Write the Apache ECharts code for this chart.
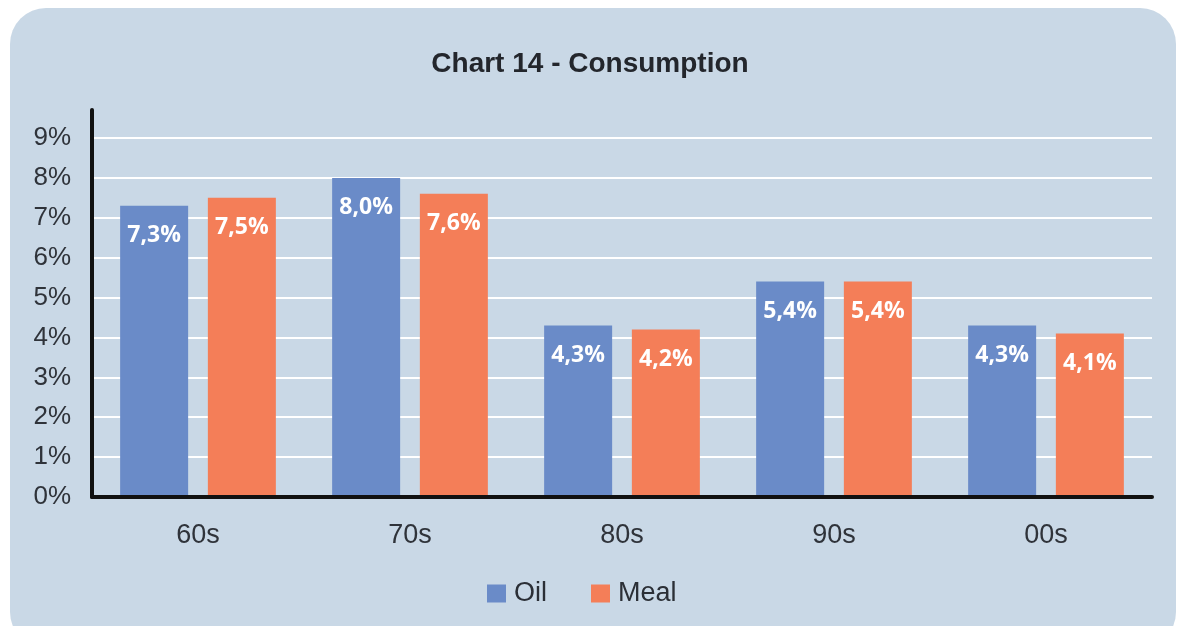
<!DOCTYPE html>
<html>
<head>
<meta charset="utf-8">
<script src="https://cdn.jsdelivr.net/npm/echarts@6/dist/echarts.min.js"></script>
<style>
html,body{margin:0;padding:0;background:#ffffff;}
#panel{position:absolute;left:10px;top:8px;width:1166px;height:640px;background:#c9d8e6;border-radius:36px;}
#chart{position:absolute;left:0;top:0;width:1180px;height:626px;}
</style>
</head>
<body>
<div id="panel"></div>
<div id="chart"></div>
<script>
const categories = ['60s', '70s', '80s', '90s', '00s'];
const oilValues = [7.3, 8.0, 4.3, 5.4, 4.3];
const mealValues = [7.5, 7.6, 4.2, 5.4, 4.1];
const yTicks = [0, 1, 2, 3, 4, 5, 6, 7, 8, 9];

const fmt = v => v.toFixed(1).replace('.', ',') + '%';
const labelStyle = {
  show: true, position: 'insideTop', distance: 18,
  color: '#ffffff', fontSize: 23, fontWeight: 'bold',
  fontFamily: 'Open Sans, sans-serif',
  formatter: p => fmt(p.value)
};
const font = 'Liberation Sans, Arial, sans-serif';

const chart = echarts.init(document.getElementById('chart'), null, {renderer: 'canvas'});
chart.setOption({
  backgroundColor: 'transparent',
  animation: false,
  title: {
    text: 'Chart 14 - Consumption', left: 'center', top: 45,
    textStyle: {fontFamily: font, fontSize: 28, fontWeight: 'bold', color: '#23262c'}
  },
  legend: {
    data: ['Oil', 'Meal'], top: 575, left: 482,
    icon: 'rect', itemWidth: 19, itemHeight: 18, itemGap: 44,
    textStyle: {fontFamily: font, fontSize: 27, color: '#2b2f36', padding: [0, 0, 0, 3]}
  },
  grid: [
    {left: 92, right: 28, top: 138, bottom: 129},
    {left: 92, right: 28, top: 110, bottom: 129}
  ],
  xAxis: [
    {
      type: 'category', data: categories, gridIndex: 0,
      axisLine: {show: true, lineStyle: {color: '#111111', width: 4}},
      axisTick: {show: false},
      axisLabel: {fontFamily: font, fontSize: 27, color: '#2f333a', margin: 25},
      z: 5
    },
    {type: 'category', gridIndex: 1, show: false, data: categories}
  ],
  yAxis: [
    {
      type: 'value', gridIndex: 0, min: yTicks[0], max: yTicks[yTicks.length - 1], interval: 1,
      axisLine: {show: false}, axisTick: {show: false},
      axisLabel: {fontFamily: font, fontSize: 26, color: '#2f333a', margin: 21,
        formatter: v => v + '%'},
      splitLine: {show: true, lineStyle: {color: '#ffffff', width: 2}}
    },
    {
      type: 'value', gridIndex: 1, min: 0, max: 1,
      axisLine: {show: true, lineStyle: {color: '#111111', width: 4}},
      axisTick: {show: false}, axisLabel: {show: false}, splitLine: {show: false}, z: 5
    }
  ],
  series: [
    {name: 'Oil', type: 'bar', data: oilValues, barWidth: 68, barGap: '29%',
      itemStyle: {color: '#6a8bc8'}, label: labelStyle},
    {name: 'Meal', type: 'bar', data: mealValues, barWidth: 68, barGap: '29%',
      itemStyle: {color: '#f47e58'}, label: labelStyle}
  ]
});
</script>
</body>
</html>
